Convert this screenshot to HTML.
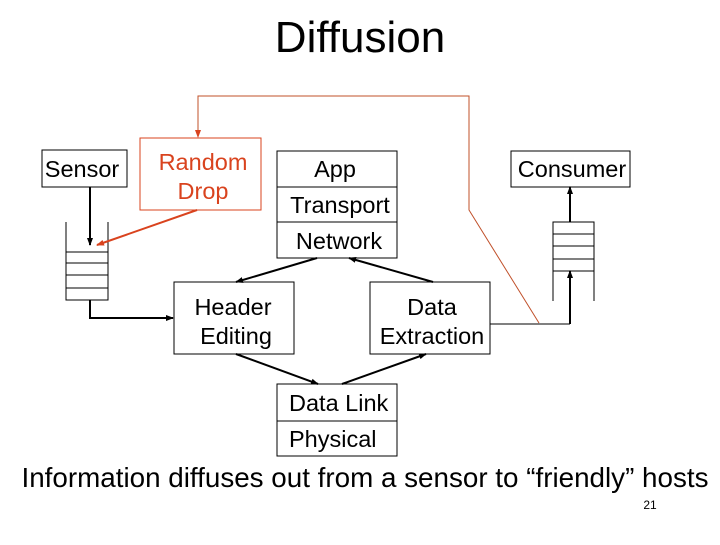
<!DOCTYPE html>
<html><head><style>
body{margin:0;width:720px;height:540px;background:#fff;overflow:hidden}
svg text{font-family:"Liberation Sans",sans-serif}
</style></head><body>
<svg width="720" height="540" xmlns="http://www.w3.org/2000/svg">
<defs>
<marker id="a" markerWidth="8" markerHeight="8" refX="7" refY="4" orient="auto" markerUnits="userSpaceOnUse"><path d="M0,1 L8,4 L0,7z" fill="#000"/></marker>
<marker id="o" markerWidth="8" markerHeight="8" refX="7" refY="4" orient="auto" markerUnits="userSpaceOnUse"><path d="M0,1 L8,4 L0,7z" fill="#d9431e"/></marker>
</defs>
<text x="360" y="52" font-size="44" text-anchor="middle">Diffusion</text>
<g fill="none" stroke="#000" stroke-width="1">
<rect x="42" y="150" width="85" height="37"/>
<rect x="277" y="151" width="120" height="107"/><line x1="277" y1="187" x2="397" y2="187"/><line x1="277" y1="222" x2="397" y2="222"/>
<rect x="174" y="282" width="120" height="72"/>
<rect x="370" y="282" width="120" height="72"/>
<rect x="277" y="384" width="120" height="72"/><line x1="277" y1="421" x2="397" y2="421"/>
<rect x="511" y="151" width="119" height="36"/>
<path d="M66,222V300H108V222M66,252H108M66,263H108M66,275H108M66,288H108"/>
<path d="M553,301V222H594V301M553,234H594M553,246H594M553,259H594M553,271H594"/>
</g>
<g fill="none" stroke="#000" stroke-width="2">
<line x1="90" y1="187" x2="90" y2="245" marker-end="url(#a)"/>
<path d="M90,300V318H173" marker-end="url(#a)"/>
<line x1="317" y1="258" x2="236" y2="282" marker-end="url(#a)"/>
<line x1="433" y1="282" x2="349" y2="258" marker-end="url(#a)"/>
<line x1="236" y1="354" x2="318" y2="384" marker-end="url(#a)"/>
<line x1="342" y1="384" x2="426" y2="354" marker-end="url(#a)"/>
<path d="M570,324V271" marker-end="url(#a)"/>
<path d="M570,222V187" marker-end="url(#a)"/>
</g>
<path d="M490,324H570" stroke="#000" stroke-width="1" fill="none"/>
<rect x="140" y="138" width="121" height="72" fill="none" stroke="#d9431e" stroke-width="1"/>
<path d="M539,323L469,210V96H198V137" fill="none" stroke="#c0502a" stroke-width="1" marker-end="url(#o)"/>
<line x1="197" y1="210" x2="97" y2="245" stroke="#d9431e" stroke-width="2" marker-end="url(#o)"/>
<g font-size="23.5">
<text x="82" y="177" text-anchor="middle">Sensor</text>
<text x="203" y="170" text-anchor="middle" fill="#d9431e">Random</text>
<text x="203" y="199" text-anchor="middle" fill="#d9431e">Drop</text>
<text x="335" y="177" text-anchor="middle">App</text>
<text x="340" y="213" text-anchor="middle">Transport</text>
<text x="339" y="249" text-anchor="middle">Network</text>
<text x="233" y="315" text-anchor="middle">Header</text>
<text x="236" y="344" text-anchor="middle">Editing</text>
<text x="432" y="315" text-anchor="middle">Data</text>
<text x="432" y="344" text-anchor="middle">Extraction</text>
<text x="572" y="177" text-anchor="middle">Consumer</text>
<text x="289" y="411">Data Link</text>
<text x="289" y="447">Physical</text>
</g>
<text x="365" y="487" font-size="27.8" text-anchor="middle">Information diffuses out from a sensor to “friendly” hosts</text>
<text x="650" y="509" font-size="12" text-anchor="middle">21</text>
</svg>
</body></html>
